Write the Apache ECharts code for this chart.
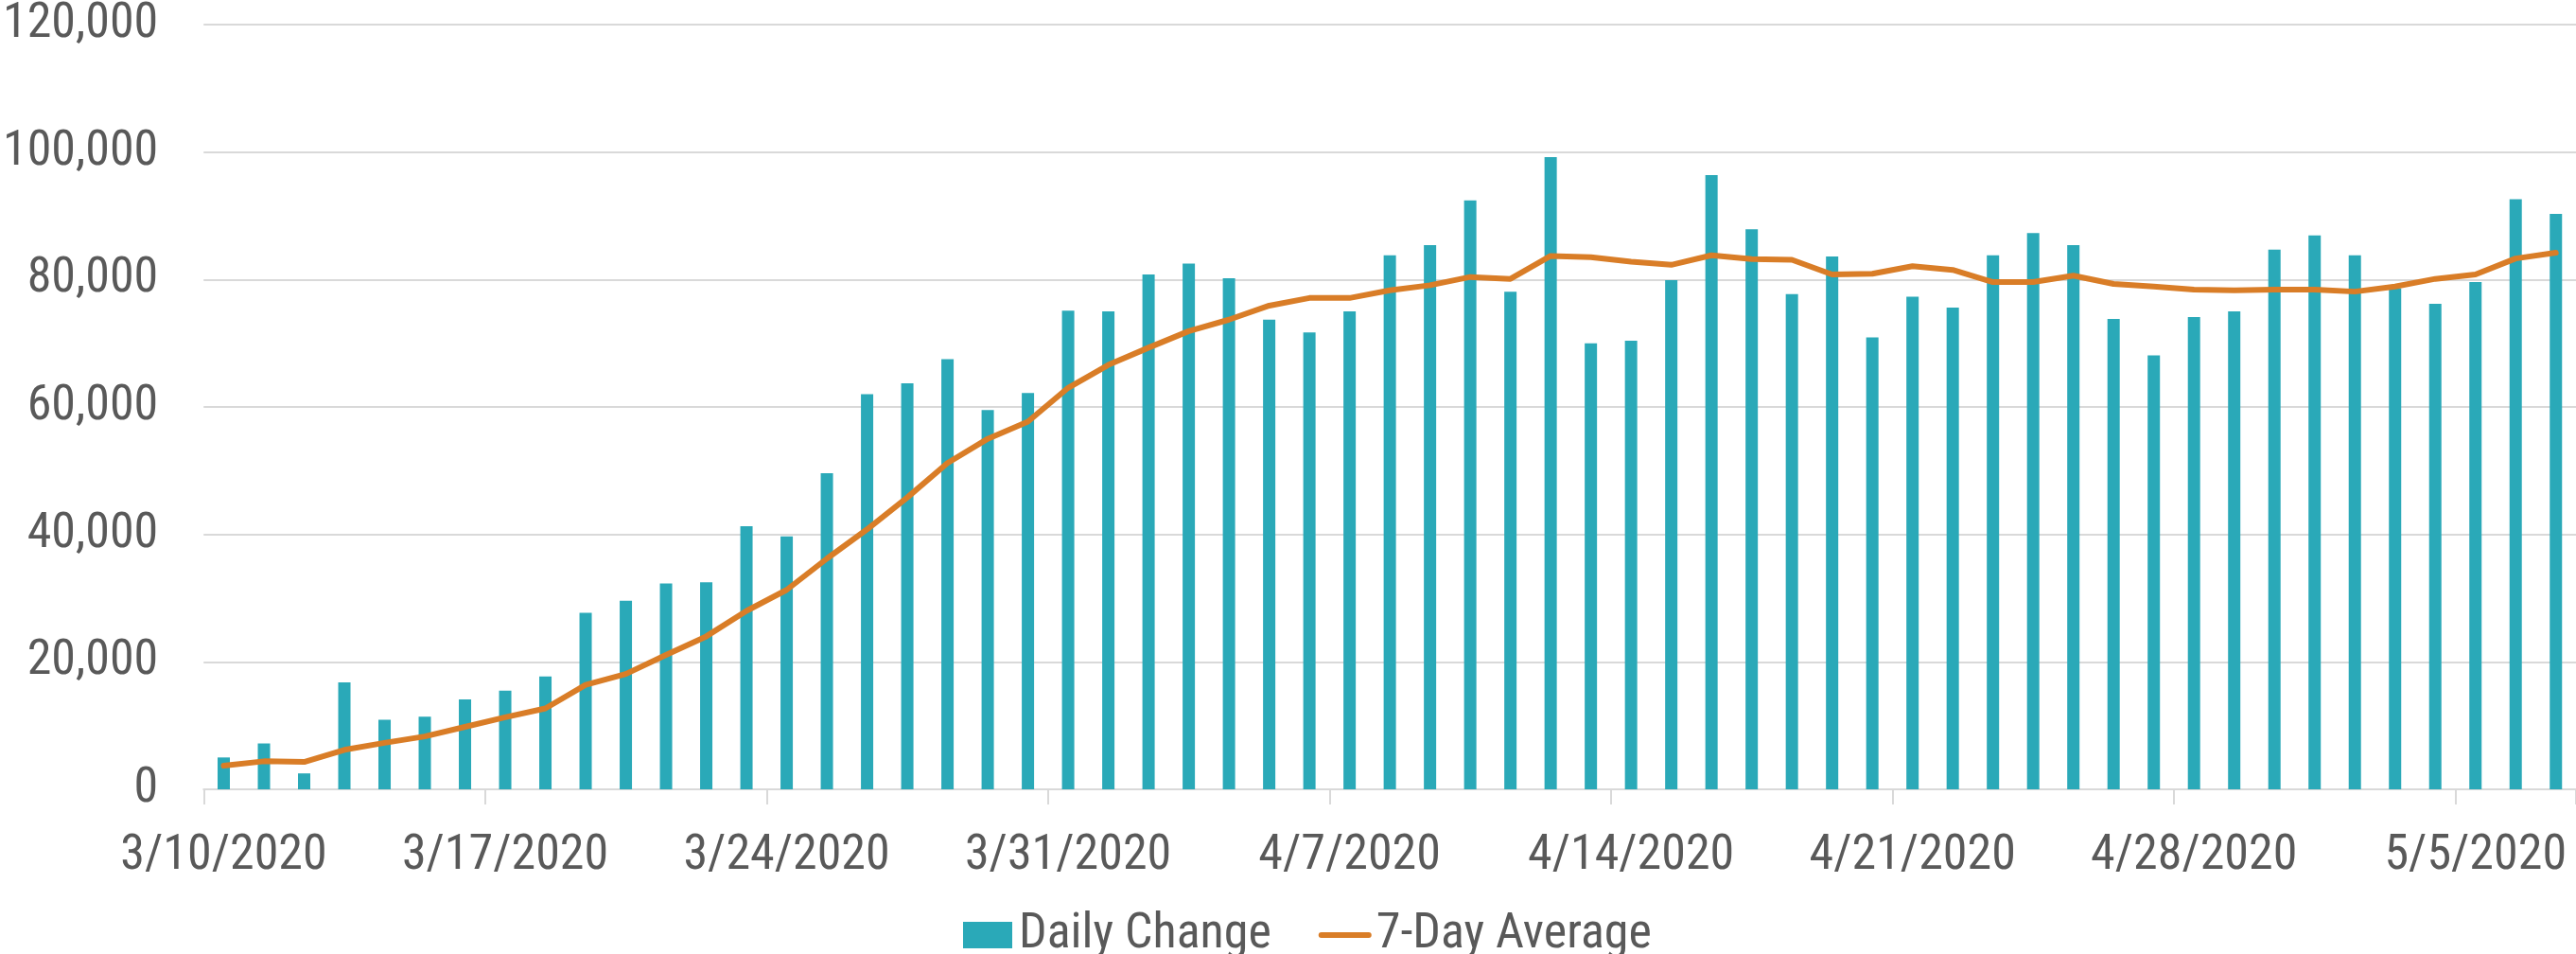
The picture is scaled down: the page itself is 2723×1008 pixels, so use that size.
<!DOCTYPE html>
<html>
<head>
<meta charset="utf-8">
<script src="https://cdn.jsdelivr.net/npm/echarts@6/dist/echarts.min.js"></script>
<style>
  html, body { margin: 0; padding: 0; background: #ffffff; }
  #chart { width: 2723px; height: 1008px; }
</style>
</head>
<body>
<div id="chart"></div>
<script>
const categories = [
  '3/10/2020','3/11/2020','3/12/2020','3/13/2020','3/14/2020','3/15/2020','3/16/2020',
  '3/17/2020','3/18/2020','3/19/2020','3/20/2020','3/21/2020','3/22/2020','3/23/2020',
  '3/24/2020','3/25/2020','3/26/2020','3/27/2020','3/28/2020','3/29/2020','3/30/2020',
  '3/31/2020','4/1/2020','4/2/2020','4/3/2020','4/4/2020','4/5/2020','4/6/2020',
  '4/7/2020','4/8/2020','4/9/2020','4/10/2020','4/11/2020','4/12/2020','4/13/2020',
  '4/14/2020','4/15/2020','4/16/2020','4/17/2020','4/18/2020','4/19/2020','4/20/2020',
  '4/21/2020','4/22/2020','4/23/2020','4/24/2020','4/25/2020','4/26/2020','4/27/2020',
  '4/28/2020','4/29/2020','4/30/2020','5/1/2020','5/2/2020','5/3/2020','5/4/2020',
  '5/5/2020','5/6/2020','5/7/2020'
];

const dailyChange = [
  5000, 7200, 2500, 16800, 10900, 11400, 14100,
  15500, 17700, 27700, 29600, 32300, 32500, 41300,
  39700, 49600, 62000, 63700, 67500, 59500, 62200,
  75100, 75000, 80800, 82500, 80200, 73700, 71700,
  75000, 83800, 85400, 92400, 78100, 99200, 70000,
  70400, 79900, 96400, 87900, 77700, 83600, 70900,
  77300, 75600, 83800, 87300, 85400, 73800, 68100,
  74100, 75000, 84700, 86900, 83800, 78600, 76200,
  79600, 92600, 90300
];

const sevenDayAverage = [
  3700, 4400, 4300, 6200, 7300, 8300, 9800,
  11300, 12700, 16400, 18100, 21100, 24000, 28000,
  31300, 36200, 40800, 45800, 51200, 55000, 57700,
  63000, 66600, 69300, 71900, 73700, 75900, 77100,
  77100, 78300, 79100, 80400, 80100, 83700, 83500,
  82800, 82300, 83800, 83200, 83100, 80800, 80900,
  82100, 81500, 79600, 79600, 80600, 79300, 78900,
  78400, 78300, 78400, 78400, 78100, 78900, 80100,
  80800, 83300, 84200
];

const yTicks = { min: 0, max: 120000, interval: 20000 };

const FONT = "'Roboto Condensed', 'Liberation Sans Narrow', 'DejaVu Sans Condensed', sans-serif";
const FONT_SIZE = 52;
const TEXT = '#595959';
const GRID = '#d9d9d9';
const TEAL = '#2aa9b8';
const ORANGE = '#d97d27';

const chart = echarts.init(document.getElementById('chart'), null, { renderer: 'canvas' });
chart.setOption({
  backgroundColor: '#ffffff',
  animation: false,
  textStyle: { fontFamily: FONT },
  grid: { left: 208, right: 0, top: 26, bottom: 174, containLabel: false },
  legend: {
    left: 1013,
    top: 957,
    itemWidth: 56,
    itemHeight: 28,
    itemGap: 50,
    symbolKeepAspect: true,
    textStyle: { fontFamily: FONT, fontSize: FONT_SIZE, color: TEXT },
    data: [
      { name: 'Daily Change', icon: 'path://M0,0H52V28H0Z', itemStyle: { color: TEAL } },
      { name: '7-Day Average', icon: 'path://M3,0H53A3,3 0 0 1 53,6H3A3,3 0 0 1 3,0Z', itemStyle: { color: ORANGE } }
    ]
  },
  xAxis: {
    type: 'category',
    data: categories,
    boundaryGap: true,
    axisLine: { show: true, lineStyle: { color: GRID, width: 2 } },
    axisTick: { show: true, interval: 6, length: 16, lineStyle: { color: GRID, width: 2 } },
    axisLabel: {
      interval: 6,
      margin: 45,
      fontFamily: FONT,
      fontSize: FONT_SIZE,
      color: TEXT
    },
    splitLine: { show: false }
  },
  yAxis: {
    type: 'value',
    min: yTicks.min,
    max: yTicks.max,
    interval: yTicks.interval,
    axisLine: { show: false },
    axisTick: { show: false },
    axisLabel: {
      margin: 48,
      fontFamily: FONT,
      fontSize: FONT_SIZE,
      color: TEXT,
      formatter: v => v.toLocaleString('en-US')
    },
    splitLine: { show: true, lineStyle: { color: GRID, width: 2 } }
  },
  series: [
    {
      name: 'Daily Change',
      type: 'bar',
      data: dailyChange,
      barWidth: 13,
      itemStyle: { color: TEAL },
      z: 2
    },
    {
      name: '7-Day Average',
      type: 'line',
      data: sevenDayAverage,
      symbol: 'none',
      showSymbol: false,
      lineStyle: { color: ORANGE, width: 6, cap: 'round', join: 'round' },
      itemStyle: { color: ORANGE },
      z: 3
    }
  ]
});
</script>
</body>
</html>
